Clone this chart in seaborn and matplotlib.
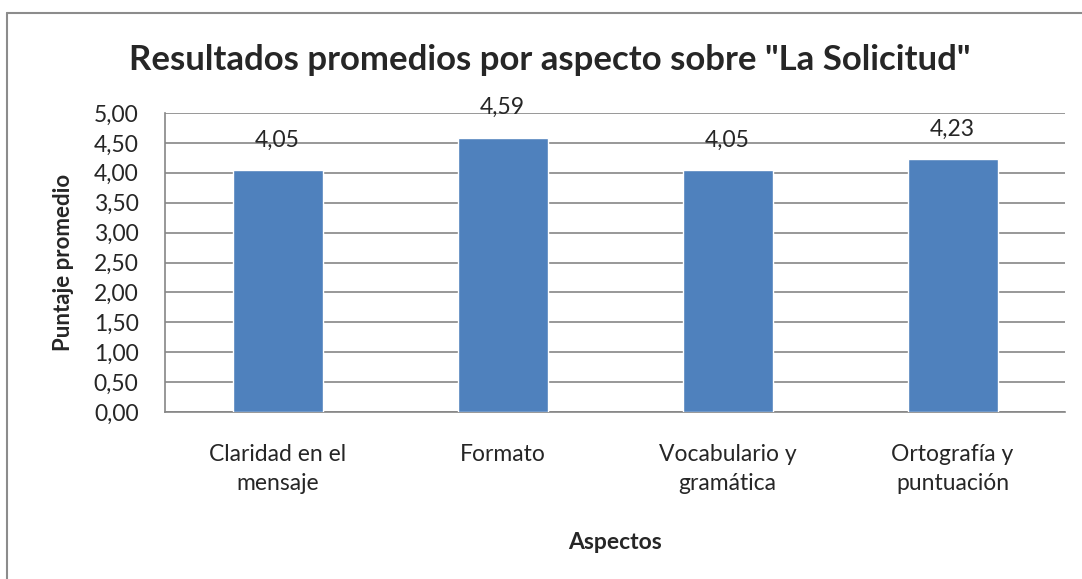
import matplotlib
matplotlib.use("Agg")
import matplotlib.pyplot as plt
import seaborn as sns
import pandas as pd
from matplotlib.lines import Line2D
from matplotlib.ticker import FuncFormatter, MultipleLocator

categories = ["Claridad en el\nmensaje", "Formato", "Vocabulario y\ngramática", "Ortografía y\npuntuación"]
scores = [4.05, 4.59, 4.05, 4.23]

BAR_COLOR = "#4F81BD"
GRID_COLOR = "#868686"

sns.set_style("white")
plt.rcParams["font.family"] = ["Lato", "DejaVu Sans"]

df = pd.DataFrame({"aspecto": categories, "puntaje": scores})

W, H = 1082, 579
fig = plt.figure(figsize=(W / 100, H / 100), dpi=100)
ax = fig.add_axes([165 / W, 1 - 412 / H, 900 / W, 299 / H])

sns.barplot(data=df, x="aspecto", y="puntaje", color=BAR_COLOR, width=0.4,
            saturation=1, ax=ax, zorder=3)

ax.set_ylim(0, 5)
ax.set_xlim(-0.5, len(categories) - 0.5)
ax.yaxis.set_major_locator(MultipleLocator(0.5))
ax.yaxis.set_major_formatter(FuncFormatter(lambda v, _: f"{v:.2f}".replace(".", ",")))
ax.grid(axis="y", color=GRID_COLOR, linewidth=1.2, zorder=0)
ax.set_axisbelow(True)

for side in ["top", "right"]:
    ax.spines[side].set_visible(False)
for side in ["left", "bottom"]:
    ax.spines[side].set_color(GRID_COLOR)
    ax.spines[side].set_linewidth(1.2)

# category boundary ticks on x axis
ax.set_xticks(range(len(categories)))
ax.set_xticklabels(categories, fontsize=16.5, linespacing=1.5)
ax.tick_params(axis="x", length=0, pad=23)
ax.set_xticks([i - 0.5 for i in range(len(categories) + 1)], minor=True)
ax.tick_params(axis="x", which="minor", length=6, width=1.2, color=GRID_COLOR)
ax.tick_params(axis="y", length=6, width=1.2, color=GRID_COLOR, labelsize=16.5, pad=13)

for bar, val in zip(ax.patches, scores):
    ax.text(bar.get_x() + bar.get_width() / 2, val + 0.5, f"{val:.2f}".replace(".", ","),
            ha="center", va="center", fontsize=16.5)

ax.set_xlabel("Aspectos", fontsize=16.5, fontweight="bold", labelpad=27)
ax.set_ylabel("Puntaje promedio", fontsize=16, fontweight="bold", labelpad=14)

fig.text(550 / W, 1 - 60 / H, 'Resultados promedios por aspecto sobre "La Solicitud"',
         ha="center", va="center", fontsize=25, fontweight="bold")

# outer chart border (cropped at right and bottom)
fig.add_artist(Line2D([7 / W, 7 / W], [0, 1 - 13 / H], color="#8c8c8c", linewidth=1.5,
                      transform=fig.transFigure))
fig.add_artist(Line2D([7 / W, 1], [1 - 13 / H, 1 - 13 / H], color="#8c8c8c", linewidth=1.5,
                      transform=fig.transFigure))

fig.savefig("out.png", dpi=100)
